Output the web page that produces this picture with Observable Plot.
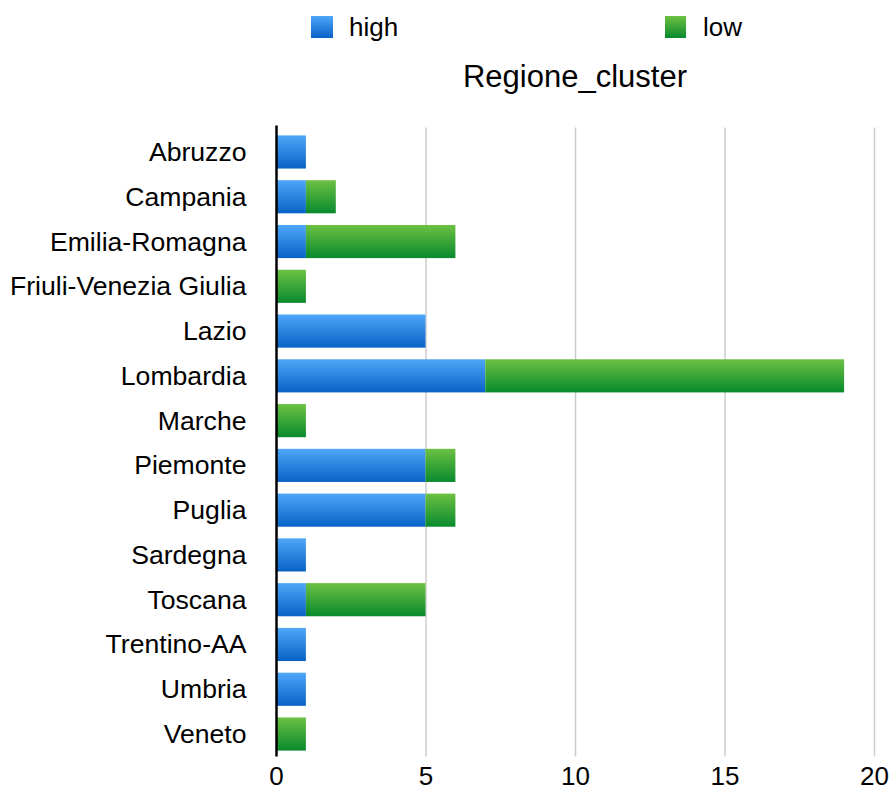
<!DOCTYPE html>
<html>
<head>
<meta charset="utf-8">
<script src="https://cdn.jsdelivr.net/npm/d3@7"></script>
<script src="https://cdn.jsdelivr.net/npm/@observablehq/plot@0.6"></script>
<style>
  body { margin: 0; background: #fff; font-family: "Liberation Sans", Arial, Helvetica, sans-serif; }
  #wrap { position: relative; width: 893px; height: 791px; }
  .sw { position: absolute; width: 22px; height: 22px; top: 16px; }
  .lt { position: absolute; top: 12px; font-size: 26px; line-height: 30px; color: #000; }
  #title { position: absolute; top: 60px; left: 375px; width: 400px; text-align: center; font-size: 31px; line-height: 34px; color: #000; }
  #chart { position: absolute; top: 110px; left: 0; }
</style>
</head>
<body>
<div id="wrap">
  <div class="sw" style="left:311px;background:linear-gradient(#4ea7f8,#0862c6);"></div>
  <div class="lt" style="left:349px;">high</div>
  <div class="sw" style="left:665px;width:21px;background:linear-gradient(#6dc143,#088a2d);"></div>
  <div class="lt" style="left:703px;">low</div>
  <div id="title">Regione_cluster</div>
  <div id="chart"></div>
</div>
<script>
const regions = ["Abruzzo","Campania","Emilia-Romagna","Friuli-Venezia Giulia","Lazio","Lombardia","Marche","Piemonte","Puglia","Sardegna","Toscana","Trentino-AA","Umbria","Veneto"];
const highValues = [1,1,1,0,5,7,0,5,5,1,1,1,1,0];
const lowValues  = [0,1,5,1,0,12,1,1,1,0,4,0,0,1];
const clusters = ["high","low"];
const xTicks = [0,5,10,15,20];

const data = [];
regions.forEach((r, i) => {
  data.push({region: r, cluster: "high", value: highValues[i]});
  data.push({region: r, cluster: "low", value: lowValues[i]});
});

function defs() {
  const d = d3.create("svg:defs");
  const g1 = d.append("linearGradient").attr("id","gHigh").attr("x1",0).attr("y1",0).attr("x2",0).attr("y2",1);
  g1.append("stop").attr("offset","0%").attr("stop-color","#4ea7f8");
  g1.append("stop").attr("offset","100%").attr("stop-color","#0862c6");
  const g2 = d.append("linearGradient").attr("id","gLow").attr("x1",0).attr("y1",0).attr("x2",0).attr("y2",1);
  g2.append("stop").attr("offset","0%").attr("stop-color","#6dc143");
  g2.append("stop").attr("offset","100%").attr("stop-color","#088a2d");
  return d.node();
}

const chart = Plot.plot({
  width: 893,
  height: 681,
  marginLeft: 276,
  marginRight: 19,
  marginTop: 19.6,
  marginBottom: 34.6,
  style: {fontFamily: '"Liberation Sans", Arial, Helvetica, sans-serif', fontSize: "26.6px", color: "#000", background: "#fff", overflow: "visible"},
  x: {domain: [0, 20], ticks: xTicks, tickSize: 0, tickPadding: 10, label: null, tickFormat: d => String(d)},
  y: {domain: regions, paddingInner: 0.26, paddingOuter: 0.13, round: false, tickSize: 0, tickPadding: 30, label: null},
  color: {domain: clusters, range: ["url(#gHigh)", "url(#gLow)"]},
  marks: [
    defs,
    Plot.ruleX([5,10,15,20], {stroke: "#cccccc", strokeWidth: 1.5, insetTop: -2}),
    Plot.barX(data, Plot.stackX({x: "value", y: "region", fill: "cluster", order: clusters})),
    Plot.ruleX([0], {stroke: "#000", strokeWidth: 2.5, insetTop: -4})
  ]
});
chart.querySelectorAll('[aria-label="x-axis tick label"] text, [aria-label="x-axis tick label"]').forEach(el => el.setAttribute("font-size", "26px"));
document.getElementById("chart").appendChild(chart);
</script>
</body>
</html>
